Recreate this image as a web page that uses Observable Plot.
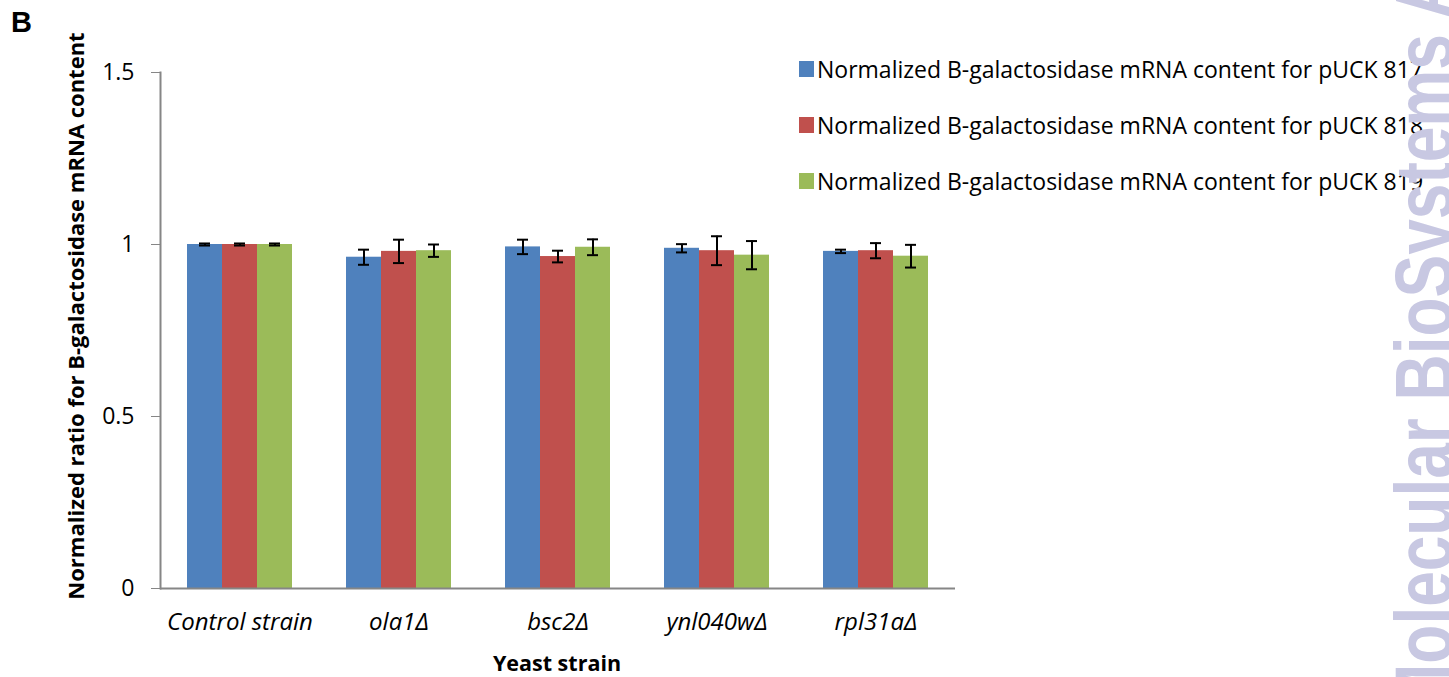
<!DOCTYPE html>
<html><head><meta charset="utf-8">
<script src="https://cdn.jsdelivr.net/npm/d3@7"></script>
<script src="https://cdn.jsdelivr.net/npm/@observablehq/plot@0.6"></script>
<style>
body{margin:0;background:#fff;overflow:hidden}
#wrap{position:relative;width:1449px;height:677px;overflow:hidden;font-family:"Open Sans",sans-serif;color:#000}
#wrap svg.chart{position:absolute;left:0;top:0}
.panel{position:absolute;left:11px;top:6px;font:bold 29px "Liberation Sans",Arial,sans-serif}
.ytitle{position:absolute;left:75px;top:316px;transform:translate(-50%,-50%) rotate(-90deg);white-space:nowrap;font-weight:bold;font-size:22px}
.xtitle{position:absolute;left:557px;top:662px;transform:translate(-50%,-50%);white-space:nowrap;font-weight:bold;font-size:21.5px}
.legend{position:absolute;left:799px;top:0;font-size:23px}
.legend .row{position:absolute;left:0;white-space:nowrap;display:flex;align-items:center;height:30px}
.legend .sw{width:15px;height:16px;margin-right:3px;flex:none}
#wm{position:absolute;left:0;top:0;pointer-events:none}
</style></head><body><div id="wrap"></div>
<script>
const categories = ["Control strain", "ola1\u0394", "bsc2\u0394", "ynl040w\u0394", "rpl31a\u0394"];
const series = [
  "Normalized B-galactosidase mRNA content for pUCK 817",
  "Normalized B-galactosidase mRNA content for pUCK 818",
  "Normalized B-galactosidase mRNA content for pUCK 819"
];
const colors = ["#4F81BD", "#C0504D", "#9BBB59"];
const values817 = [1.000, 0.963, 0.993, 0.989, 0.980];
const values818 = [1.000, 0.980, 0.965, 0.982, 0.982];
const values819 = [1.000, 0.982, 0.992, 0.969, 0.966];
const err817 = [0.003, 0.022, 0.021, 0.012, 0.005];
const err818 = [0.003, 0.034, 0.017, 0.042, 0.022];
const err819 = [0.003, 0.018, 0.023, 0.041, 0.033];
const yTicks = [0, 0.5, 1, 1.5];
const yTitle = "Normalized ratio for B-galactosidase mRNA content";
const xTitle = "Yeast strain";
const panelLabel = "B";
const watermark = "Molecular BioSystems Accepted Manuscript";

const valueSets = [values817, values818, values819];
const errSets = [err817, err818, err819];
const data = [];
categories.forEach((c, i) => series.forEach((s, j) => data.push({category: c, series: s, value: valueSets[j][i], err: errSets[j][i]})));

const chart = Plot.plot({
  width: 1449, height: 677,
  marginLeft: 158, marginRight: 492, marginTop: 72, marginBottom: 89,
  style: {fontFamily: '"Open Sans", sans-serif', fontSize: "23px", color: "black", background: "transparent"},
  fx: {domain: categories, padding: 0, label: null},
  x: {domain: series, paddingInner: 0, paddingOuter: 0.74, axis: null},
  y: {domain: [0, 1.5], axis: null},
  color: {domain: series, range: colors},
  marks: [
    Plot.barY(data, {fx: "category", x: "series", y: "value", fill: "series"}),
    Plot.ruleY([0], {stroke: "#868686", strokeWidth: 2}),
    Plot.frame({anchor: "left", facetAnchor: "left", stroke: "#868686", strokeWidth: 2}),
    Plot.ruleX(data, {fx: "category", x: "series", y1: d => d.value - d.err, y2: d => d.value + d.err, stroke: "black", strokeWidth: 2}),
    Plot.tickY(data, {fx: "category", x: "series", y: d => d.value - d.err, stroke: "black", strokeWidth: 2, insetLeft: 12, insetRight: 12}),
    Plot.tickY(data, {fx: "category", x: "series", y: d => d.value + d.err, stroke: "black", strokeWidth: 2, insetLeft: 12, insetRight: 12}),
    Plot.axisY({ticks: yTicks, tickFormat: d => String(d), tickSize: 9, tickPadding: 17, stroke: "#868686", fill: "black", fontSize: 23, label: null}),
    Plot.axisFx({anchor: "bottom", tickSize: 0, tickPadding: 24, fontStyle: "italic", fontSize: 24, label: null})
  ]
});
chart.classList.add("chart");
const wrap = document.getElementById("wrap");
wrap.appendChild(chart);

const p = document.createElement("div"); p.className = "panel"; p.textContent = panelLabel; wrap.appendChild(p);
const yt = document.createElement("div"); yt.className = "ytitle"; yt.textContent = yTitle; wrap.appendChild(yt);
const xt = document.createElement("div"); xt.className = "xtitle"; xt.textContent = xTitle; wrap.appendChild(xt);

const lg = document.createElement("div"); lg.className = "legend";
series.forEach((s, j) => {
  const r = document.createElement("div"); r.className = "row"; r.style.top = (54 + j * 56) + "px";
  const sw = document.createElement("span"); sw.className = "sw"; sw.style.background = colors[j];
  const t = document.createElement("span"); t.textContent = s;
  r.appendChild(sw); r.appendChild(t); lg.appendChild(r);
});
wrap.appendChild(lg);

const svg = d3.select(wrap).append("svg").attr("id", "wm").attr("width", 1449).attr("height", 677);
svg.append("text").attr("transform", "translate(1452,717) rotate(-90) scale(1,1.28)")
  .attr("font-family", '"Liberation Sans", Arial, sans-serif').attr("font-weight", "bold")
  .attr("font-size", 64).attr("fill", "#c8c8e2").text(watermark);
</script></body></html>
